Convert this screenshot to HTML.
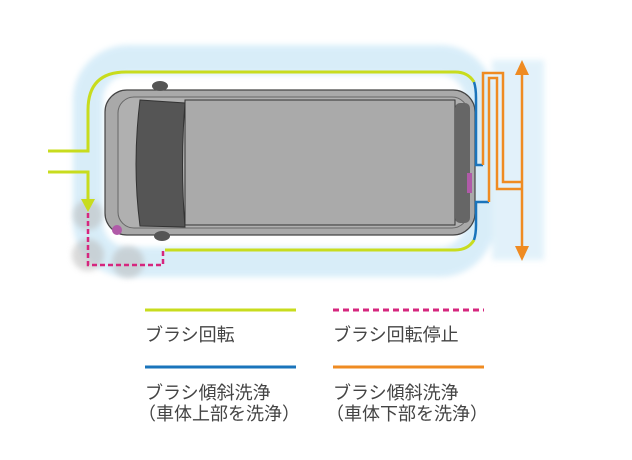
<!DOCTYPE html>
<html><head><meta charset="utf-8"><style>
html,body{margin:0;padding:0;background:#fff;width:632px;height:460px;overflow:hidden}
svg{display:block}
text{font-family:"Liberation Sans","Noto Sans CJK JP",sans-serif;font-size:18px;fill:#444}
</style></head><body>
<svg width="632" height="460" viewBox="0 0 632 460" xmlns="http://www.w3.org/2000/svg">
<defs>
<filter id="b" x="-10%" y="-10%" width="120%" height="120%"><feGaussianBlur stdDeviation="3"/></filter>
</defs>
<g filter="url(#b)" opacity="0.6">
<rect x="88" y="60" width="392" height="202" rx="40" fill="none" stroke="#bfe2f5" stroke-width="30"/>
<rect x="492" y="60" width="52" height="200" fill="#cfe9f7"/>
</g>
<g filter="url(#b)" opacity="0.55" fill="#bbb">
<circle cx="88" cy="215" r="15"/><circle cx="88" cy="255" r="16"/><circle cx="128" cy="262" r="16"/>
</g>
<rect x="105" y="90" width="370" height="145" rx="22" fill="#a9a9a9" stroke="#444" stroke-width="1.2"/>
<rect x="118" y="97" width="350" height="131" rx="16" fill="#b0b0b0" stroke="#666" stroke-width="1"/>
<path d="M140 100 L185 103 Q180 165 185 227 L140 226 Q132 165 140 100Z" fill="#555" stroke="#333"/>
<rect x="185" y="100" width="270" height="125" fill="#aaa" stroke="#333" stroke-width="1"/>
<rect x="455" y="103" width="15" height="120" rx="5" fill="#666"/>
<ellipse cx="160" cy="86" rx="8" ry="5" fill="#555"/>
<ellipse cx="162" cy="236" rx="8" ry="5" fill="#555"/>
<circle cx="117" cy="230" r="5" fill="#b05aa8"/>
<rect x="467" y="173" width="5" height="20" fill="#b05aa8"/>
<path d="M48 151 H88 V110 Q88 72 126 72 H455 Q468 72 474 82" fill="none" stroke="#c8dc1e" stroke-width="3"/>
<path d="M48 172 H88 V200" fill="none" stroke="#c8dc1e" stroke-width="3"/>
<path d="M81 199 L95 199 L88 212Z" fill="#c8dc1e"/>
<path d="M165 250 H455 Q468 250 474 240" fill="none" stroke="#c8dc1e" stroke-width="3"/>
<path d="M474 82 Q476 88 476 98 V165 H483" fill="none" stroke="#1a74bb" stroke-width="2.5"/>
<path d="M474 240 Q476 234 476 225 V202 H489" fill="none" stroke="#1a74bb" stroke-width="2.5"/>
<path d="M483 165 V73 H503 V182 H521" fill="none" stroke="#ef8b22" stroke-width="2.5"/>
<path d="M489 202 V78 H497 V189 H521" fill="none" stroke="#ef8b22" stroke-width="2.5"/>
<line x1="522" y1="68" x2="522" y2="252" stroke="#ef8b22" stroke-width="2.5"/>
<path d="M515 75 L522 60 L529 75Z M515 246 L522 261 L529 246Z" fill="#ef8b22"/>
<path d="M88 213 V265 H163 V250" fill="none" stroke="#d6267e" stroke-width="2.5" stroke-dasharray="5,3"/>
<line x1="145" y1="310" x2="296" y2="310" stroke="#c8dc1e" stroke-width="3"/>
<line x1="333" y1="310" x2="484" y2="310" stroke="#d6267e" stroke-width="3" stroke-dasharray="6,4"/>
<line x1="145" y1="367" x2="296" y2="367" stroke="#1a74bb" stroke-width="3"/>
<line x1="333" y1="367" x2="484" y2="367" stroke="#ef8b22" stroke-width="3"/>
<text x="145" y="341">ブラシ回転</text>
<text x="333" y="341">ブラシ回転停止</text>
<text x="145" y="399">ブラシ傾斜洗浄</text>
<text x="138" y="420">（車体上部を洗浄）</text>
<text x="333" y="399">ブラシ傾斜洗浄</text>
<text x="326" y="420">（車体下部を洗浄）</text>
</svg>
</body></html>
